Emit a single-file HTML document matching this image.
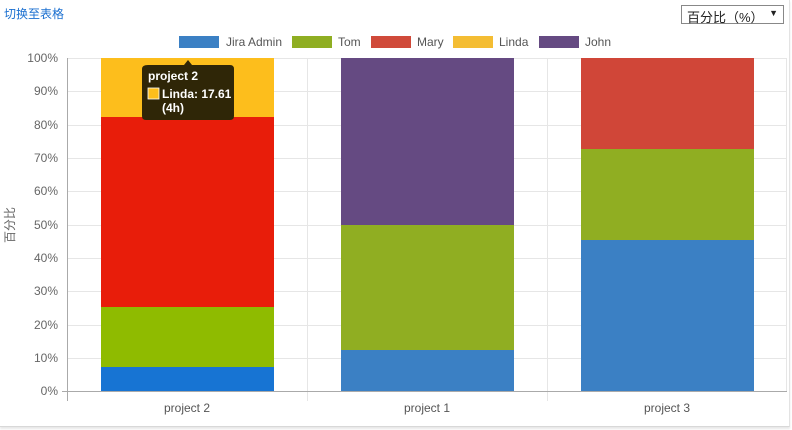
<!DOCTYPE html><html><head><style>body{margin:0;background:#fff;width:792px;height:430px;overflow:hidden;font-family:"Liberation Sans","Noto Sans CJK SC",sans-serif}</style></head><body>
<div style="position:absolute;left:0;top:0;width:789px;height:426px;border-right:1px solid #e3e3e3;border-bottom:1px solid #d8d8d8;box-shadow:0 2px 2px #e8e8e8"></div>
<div style="position:absolute;left:4px;top:5px;font-size:12px;color:#1a6fd0">切换至表格</div>
<div style="position:absolute;left:681px;top:5px;width:103px;height:19px;border:1px solid #888;font-size:13px;color:#222;box-sizing:border-box;padding:1px 5px">百分比（%）<span style="position:absolute;right:5px;top:2px;font-size:9px">▼</span></div>
<svg width="792" height="430" style="position:absolute;left:0;top:0" font-family="Liberation Sans, sans-serif">
<g font-size="12" fill="#555">
<rect x="179" y="36" width="40" height="12" fill="#3b80c4"/><text x="226" y="46">Jira Admin</text>
<rect x="292" y="36" width="40" height="12" fill="#8fae22"/><text x="338" y="46">Tom</text>
<rect x="371" y="36" width="40" height="12" fill="#d04a3a"/><text x="417" y="46">Mary</text>
<rect x="453" y="36" width="40" height="12" fill="#f4bd33"/><text x="499" y="46">Linda</text>
<rect x="539" y="36" width="40" height="12" fill="#654a82"/><text x="585" y="46">John</text>
</g>
<g stroke="#e6e6e6" stroke-width="1">
<line x1="67" x2="787" y1="58.5" y2="58.5"/><line x1="67" x2="787" y1="91.5" y2="91.5"/><line x1="67" x2="787" y1="125.5" y2="125.5"/><line x1="67" x2="787" y1="158.5" y2="158.5"/><line x1="67" x2="787" y1="191.5" y2="191.5"/><line x1="67" x2="787" y1="225.5" y2="225.5"/><line x1="67" x2="787" y1="258.5" y2="258.5"/><line x1="67" x2="787" y1="291.5" y2="291.5"/><line x1="67" x2="787" y1="325.5" y2="325.5"/><line x1="67" x2="787" y1="358.5" y2="358.5"/>
<line x1="307.5" x2="307.5" y1="58" y2="401"/><line x1="547.5" x2="547.5" y1="58" y2="401"/><line x1="786.5" x2="786.5" y1="58" y2="391"/>
</g>
<g font-size="12" fill="#666" text-anchor="end">
<text x="58" y="62">100%</text><text x="58" y="95">90%</text><text x="58" y="129">80%</text><text x="58" y="162">70%</text><text x="58" y="195">60%</text><text x="58" y="229">50%</text><text x="58" y="262">40%</text><text x="58" y="295">30%</text><text x="58" y="329">20%</text><text x="58" y="362">10%</text><text x="58" y="395">0%</text>
</g>
<text transform="translate(14,225) rotate(-90)" font-size="12" fill="#666" text-anchor="middle" font-family="Noto Sans CJK SC, sans-serif">百分比</text>
<rect x="101" y="58" width="173" height="59" fill="#fdbe1c"/>
<rect x="101" y="117" width="173" height="190" fill="#e81d0a"/>
<rect x="101" y="307" width="173" height="60" fill="#8fbb00"/>
<rect x="101" y="367" width="173" height="24" fill="#1774d3"/>
<rect x="341" y="58" width="173" height="167" fill="#654a82"/>
<rect x="341" y="225" width="173" height="125" fill="#90ae22"/>
<rect x="341" y="350" width="173" height="41" fill="#3b80c4"/>
<rect x="581" y="58" width="173" height="91" fill="#d04638"/>
<rect x="581" y="149" width="173" height="91" fill="#90ae22"/>
<rect x="581" y="240" width="173" height="151" fill="#3b80c4"/>
<line x1="67.5" x2="67.5" y1="58" y2="401" stroke="#aaa"/>
<line x1="62" x2="787" y1="391.5" y2="391.5" stroke="#aaa"/>
<g font-size="12" fill="#555" text-anchor="middle"><text x="187" y="412">project 2</text><text x="427" y="412">project 1</text><text x="667" y="412">project 3</text></g>
<path d="M148 65 H184 L188 60 L192 65 H230 Q234 65 234 69 V116 Q234 120 230 120 H146 Q142 120 142 116 V69 Q142 65 148 65Z" fill="#2f2607"/>
<text x="148" y="80" font-size="12" font-weight="bold" fill="#fff">project 2</text>
<rect x="148" y="88" width="11" height="11" fill="#fdbe1c" stroke="#fff" stroke-width="0.8"/>
<text x="162" y="98" font-size="12" font-weight="bold" fill="#fff">Linda: 17.61</text>
<text x="162" y="112" font-size="12" font-weight="bold" fill="#fff">(4h)</text>
</svg>
</body></html>
